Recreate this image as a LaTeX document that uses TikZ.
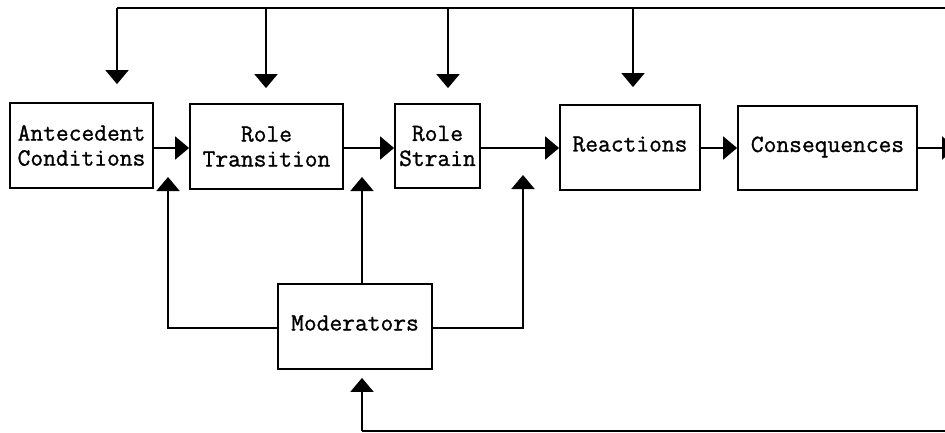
\documentclass[tikz,border=0pt]{standalone}
\usepackage{fontspec}
\setmonofont{Latin Modern Mono}[FakeBold=1.1]
\usetikzlibrary{arrows.meta,calc}
\begin{document}
\begin{tikzpicture}[x=1pt,y=-1pt,
  box/.style={draw,line width=1.8pt,inner sep=0pt,align=center,
    font=\ttfamily\fontsize{24.8}{25}\selectfont},
  one/.style={text height=16pt,text depth=8pt},
  ln/.style={line width=1.9pt},
  arr/.style={ln,-{Triangle[length=14pt,width=23pt]}}]
\useasboundingbox (0,0) rectangle (945,433);
% boxes
\node[box,minimum width=143pt,minimum height=85pt] (ant) at (81.5,145.5) {Antecedent\\Conditions};
\node[box,minimum width=153pt,minimum height=85pt] (rt) at (266.5,146.5) {Role\\Transition};
\node[box,minimum width=85pt,minimum height=84pt] (rs) at (437.5,146) {Role\\Strain};
\node[box,one,minimum width=140pt,minimum height=85pt] (re) at (630,147.5) {Reactions};
\node[box,one,minimum width=179pt,minimum height=84pt] (co) at (827.5,148) {Consequences};
\node[box,one,minimum width=154pt,minimum height=85pt] (mo) at (355,326.5) {Moderators};
% helper coordinates
\coordinate (ta) at (117,8);
\coordinate (tb) at (266,8);
\coordinate (tc) at (448,8);
\coordinate (td) at (633,8);
\coordinate (te) at (950,8);
\coordinate (cx) at (956,148);
\coordinate (ml) at (168,177);
\coordinate (mt) at (362,177);
\coordinate (mr) at (523,175);
\coordinate (bl) at (950,431);
\coordinate (bm) at (362,431);
% main chain
\draw[arr] (ant.east |- 0,148) -- (rt.west |- 0,148);
\draw[arr] (rt.east |- 0,148) -- (rs.west |- 0,148);
\draw[arr] (rs.east |- 0,148) -- (re.west |- 0,148);
\draw[arr] (re.east |- 0,148) -- (co.west |- 0,148);
\draw[arr] (co.east |- 0,148) -- (cx);
% top feedback
\draw[ln] (ta) -- (te);
\draw[arr,shorten >=18pt] (ta) -- (ta |- ant.north);
\draw[arr,shorten >=15pt] (tb) -- (tb |- rt.north);
\draw[arr,shorten >=15pt] (tc) -- (tc |- rs.north);
\draw[arr,shorten >=17pt] (td) -- (td |- re.north);
% moderators
\draw[arr] (mo.west |- 0,328) -| (ml);
\draw[arr] (mt |- mo.north) -- (mt);
\draw[arr] (mo.east |- 0,328) -| (mr);
\draw[ln] (bl) -- (bm);
\draw[arr,shorten >=8pt] (bm) -- (bm |- mo.south);
\end{tikzpicture}
\end{document}
